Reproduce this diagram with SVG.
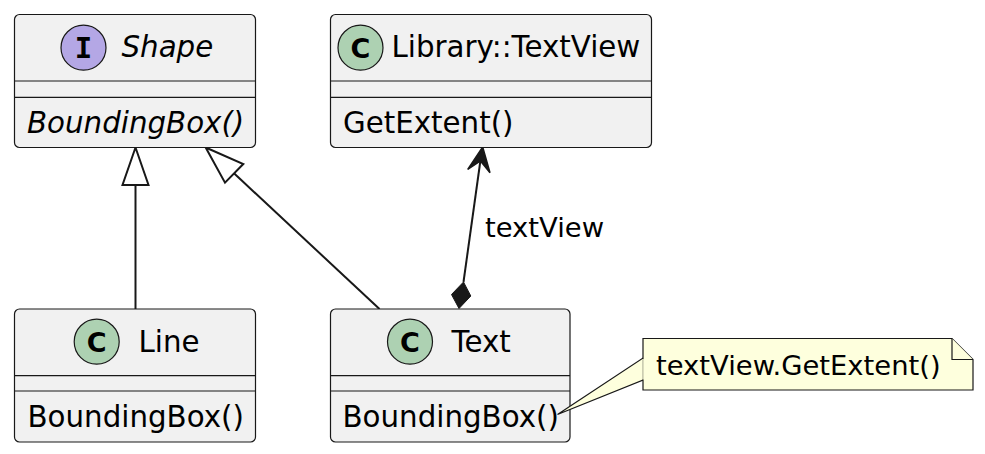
<svg xmlns="http://www.w3.org/2000/svg" width="985" height="454" viewBox="0 0 985 454">
<defs>
<style>
.box{fill:#F1F1F1;stroke:#181818;stroke-width:1.2}
.sep{stroke:#181818;stroke-width:1.2}
.t{font-family:"DejaVu Sans","Liberation Sans",sans-serif;font-size:29.3px;fill:#000}
.ti{font-family:"DejaVu Sans","Liberation Sans",sans-serif;font-size:29.3px;font-style:italic;fill:#000}
.nt{font-family:"DejaVu Sans","Liberation Sans",sans-serif;font-size:27.4px;fill:#000}
.cc{fill:#ADD1B2;stroke:#181818;stroke-width:1.2}
.ic{fill:#B4A7E5;stroke:#181818;stroke-width:1.2}
.cl{font-family:"DejaVu Sans","Liberation Sans",sans-serif;font-size:27px;font-weight:bold;fill:#000;text-anchor:middle}
.il{font-family:"DejaVu Sans Mono","Liberation Mono",monospace;font-size:29px;font-weight:bold;fill:#000;text-anchor:middle}
.ln{stroke:#181818;stroke-width:2;fill:none}
.note{fill:#FEFFDD;stroke:#181818;stroke-width:1.2}
</style>
</defs>
<rect width="985" height="454" fill="#FFFFFF"/>
<g id="connectors">
<line class="ln" x1="135.5" y1="309" x2="135.5" y2="185"/>
<polygon class="ln" points="135.5,147.5 122.5,185 148.5,185" fill="none"/>
<line class="ln" x1="379.5" y1="309" x2="234" y2="173.3"/>
<polygon class="ln" points="205.7,147.5 243.3,164 225,182.7"/>
<line class="ln" x1="463.5" y1="282" x2="480.5" y2="160"/>
<polygon points="482.7,147 467.7,169.5 480.5,161 490,172.7" fill="#181818" stroke="#181818" stroke-width="1.5"/>
<polygon points="459,308.5 451.5,294.5 463.5,282 470.8,296" fill="#181818" stroke="#181818" stroke-width="1"/>
<text class="nt" x="485" y="237">textView</text>
</g>
<g id="Shape">
<rect class="box" x="14.5" y="14.5" width="241" height="133" rx="5"/>
<circle class="ic" cx="83.5" cy="47.7" r="22.5"/>
<text class="il" x="83.5" y="57.8">I</text>
<text class="ti" x="121.5" y="57">Shape</text>
<line class="sep" x1="14.5" y1="81" x2="255.5" y2="81"/>
<line class="sep" x1="14.5" y1="97.3" x2="255.5" y2="97.3"/>
<text class="ti" x="27" y="133">BoundingBox()</text>
</g>
<g id="TextView">
<rect class="box" x="330.5" y="14.5" width="321" height="133" rx="5"/>
<circle class="cc" cx="360.5" cy="47.7" r="22.5"/>
<text class="cl" x="360.5" y="57.5">C</text>
<text class="t" x="391.5" y="57">Library::TextView</text>
<line class="sep" x1="330.5" y1="81" x2="651.5" y2="81"/>
<line class="sep" x1="330.5" y1="97.3" x2="651.5" y2="97.3"/>
<text class="t" x="343" y="133">GetExtent()</text>
</g>
<g id="Line">
<rect class="box" x="14.5" y="309" width="241" height="133" rx="5"/>
<circle class="cc" cx="96.7" cy="341.7" r="22.5"/>
<text class="cl" x="96.7" y="351.5">C</text>
<text class="t" x="138.5" y="351.5">Line</text>
<line class="sep" x1="14.5" y1="375.7" x2="255.5" y2="375.7"/>
<line class="sep" x1="14.5" y1="391" x2="255.5" y2="391"/>
<text class="t" x="27.5" y="427">BoundingBox()</text>
</g>
<g id="Text">
<rect class="box" x="330.5" y="309" width="239.5" height="133" rx="5"/>
<circle class="cc" cx="410" cy="341.7" r="22.5"/>
<text class="cl" x="410" y="351.5">C</text>
<text class="t" x="451.5" y="351.5">Text</text>
<line class="sep" x1="330.5" y1="375.7" x2="570" y2="375.7"/>
<line class="sep" x1="330.5" y1="391" x2="570" y2="391"/>
<text class="t" x="342.5" y="427">BoundingBox()</text>
</g>
<g id="note">
<polygon class="note" points="557.5,414.5 643,358 643,380"/>
<polygon class="note" points="643,338.5 952,338.5 973,359.5 973,390 643,390"/>
<polyline class="note" points="952,338.5 952,359.5 973,359.5"/>
<line x1="643" y1="359" x2="643" y2="379.5" stroke="#FEFFDD" stroke-width="1.5"/>
<text class="nt" x="656" y="375">textView.GetExtent()</text>
</g>
</svg>
